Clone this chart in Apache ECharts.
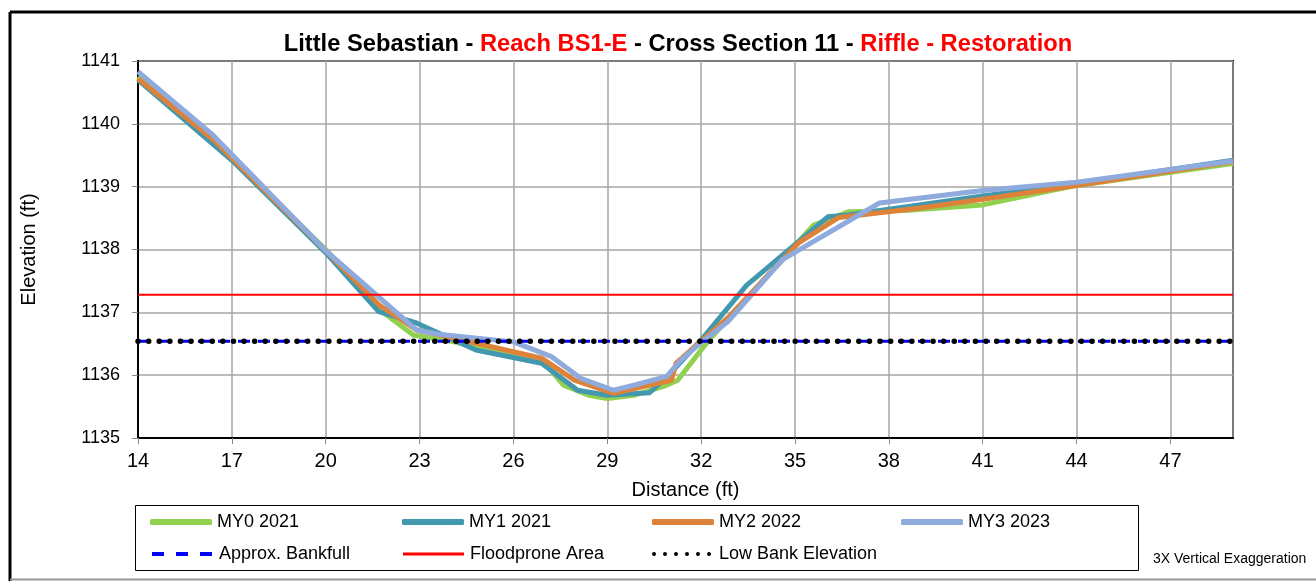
<!DOCTYPE html>
<html>
<head>
<meta charset="utf-8">
<title>Little Sebastian - Cross Section 11</title>
<script src="https://cdn.jsdelivr.net/npm/echarts@6/dist/echarts.min.js"></script>
<style>
  html, body { margin: 0; padding: 0; background: #fff; }
  #chart { width: 1316px; height: 581px; }
</style>
</head>
<body>
<div id="chart"></div>
<script>
// survey points [distance ft, elevation ft]
const my0_2021 = [
  [14, 1140.75], [17, 1139.45], [20, 1138.0], [21.7, 1137.05], [22.8, 1136.64],
  [24.1, 1136.53], [27.0, 1136.19], [27.6, 1135.84], [28.4, 1135.68], [29.0, 1135.63],
  [29.85, 1135.68], [30.8, 1135.82], [31.25, 1135.92], [32.2, 1136.53], [33.05, 1137.0],
  [35.6, 1138.39], [36.7, 1138.6], [38.5, 1138.62], [41, 1138.71], [44, 1139.02], [49, 1139.37]
]
const my1_2021 = [
  [14, 1140.7], [17, 1139.42], [20, 1137.95], [21.7, 1137.01], [22.9, 1136.83],
  [24.8, 1136.4], [26.9, 1136.19], [28.05, 1135.76], [29.0, 1135.68], [30.35, 1135.72],
  [31.0, 1136.02], [32.0, 1136.56], [33.45, 1137.43], [36.05, 1138.52], [36.7, 1138.55],
  [41, 1138.85], [44, 1139.05], [49, 1139.42]
]
const my2_2022 = [
  [14, 1140.72], [16.4, 1139.75], [20, 1137.98], [21.7, 1137.12], [22.9, 1136.72],
  [24.1, 1136.59], [26.9, 1136.27], [27.95, 1135.92], [29.2, 1135.71], [31.05, 1135.92],
  [31.2, 1136.19], [31.9, 1136.5], [32.85, 1136.91], [35.1, 1138.1], [36.4, 1138.51],
  [39.0, 1138.66], [41, 1138.8], [44, 1139.02], [49, 1139.4]
]
const my3_2023 = [
  [14, 1140.83], [16.4, 1139.82], [20, 1137.98], [22.9, 1136.72], [23.6, 1136.65],
  [26.0, 1136.53], [27.2, 1136.3], [28.15, 1135.95], [29.2, 1135.76], [29.85, 1135.84],
  [30.9, 1135.98], [31.35, 1136.24], [31.9, 1136.48], [32.85, 1136.85], [34.6, 1137.84],
  [37.7, 1138.74], [41, 1138.94], [44, 1139.07], [49, 1139.41]
]
// reference elevations
const bankfull = [[14, 1136.54], [49, 1136.54]]
const floodprone = [[14, 1137.28], [49, 1137.28]]
const lowBank = [[14, 1136.54], [49, 1136.54]]

const seriesNames = ['MY0 2021', 'MY1 2021', 'MY2 2022', 'MY3 2023',
  'Approx. Bankfull', 'Floodprone Area', 'Low Bank Elevation']

const font = 'Liberation Sans, Arial, sans-serif'

// legend glyphs
const dashIcon = 'path://M0,0h12v4h-12zM24,0h12v4h-12zM48,0h12v4h-12z'
const dotIcon = 'path://M0,2a2,2 0 1 0 4,0a2,2 0 1 0 -4,0z' +
  'M11,2a2,2 0 1 0 4,0a2,2 0 1 0 -4,0z' +
  'M22,2a2,2 0 1 0 4,0a2,2 0 1 0 -4,0z' +
  'M33,2a2,2 0 1 0 4,0a2,2 0 1 0 -4,0z' +
  'M44,2a2,2 0 1 0 4,0a2,2 0 1 0 -4,0z' +
  'M55,2a2,2 0 1 0 4,0a2,2 0 1 0 -4,0z'

function legendAt (name, left, rowY, icon, w, h) {
  return {
    data: [name],
    left: left,
    top: rowY - 8,
    padding: 0,
    icon: icon,
    itemWidth: w,
    itemHeight: h,
    textStyle: { fontFamily: font, fontSize: 18, color: '#000', padding: [0, 0, 0, 62 - w] },
    selectedMode: false
  }
}

function surveyLine (name, data, color) {
  return {
    name: name,
    type: 'line',
    data: data,
    symbol: 'none',
    lineStyle: { color: color, width: 5, join: 'round' },
    itemStyle: { color: color }
  }
}

const chart = echarts.init(document.getElementById('chart'))

chart.setOption({
  animation: false,
  textStyle: { fontFamily: font },
  title: {
    left: 673,
    top: 27,
    textAlign: 'center',
    text: '{b|Little Sebastian - }{r|Reach BS1-E}{b| - Cross Section 11 - }{r|Riffle - Restoration}',
    textStyle: {
      rich: {
        b: { fontFamily: font, fontSize: 23.7, fontWeight: 'bold', color: '#000' },
        r: { fontFamily: font, fontSize: 23.7, fontWeight: 'bold', color: '#ff0000' }
      }
    }
  },
  grid: {
    left: 138,
    right: 83,
    top: 61,
    bottom: 143,
    show: true,
    borderColor: '#000',
    borderWidth: 2
  },
  legend: [
    legendAt(seriesNames[0], 150, 521, 'roundRect', 62, 6),
    legendAt(seriesNames[1], 402, 521, 'roundRect', 62, 6),
    legendAt(seriesNames[2], 652, 521, 'roundRect', 62, 6),
    legendAt(seriesNames[3], 901, 521, 'roundRect', 62, 6),
    legendAt(seriesNames[4], 152, 553, dashIcon, 60, 4),
    legendAt(seriesNames[5], 403, 553, 'rect', 61, 3),
    legendAt(seriesNames[6], 652, 553, dotIcon, 59, 4)
  ],
  xAxis: {
    type: 'value',
    min: 14,
    max: 49,
    interval: 3,
    name: 'Distance (ft)',
    nameLocation: 'middle',
    nameGap: 42,
    nameTextStyle: { fontFamily: font, fontSize: 20, color: '#000' },
    axisLine: { lineStyle: { color: '#000', width: 2 } },
    axisTick: { show: true, length: 6, lineStyle: { color: '#888' } },
    axisLabel: { fontFamily: font, fontSize: 20, color: '#000', margin: 13, showMaxLabel: false },
    splitLine: { lineStyle: { color: '#a6a6a6', width: 1.5 } }
  },
  yAxis: {
    type: 'value',
    min: 1135,
    max: 1141,
    interval: 1,
    name: 'Elevation (ft)',
    nameLocation: 'middle',
    nameGap: 99,
    nameTextStyle: { fontFamily: font, fontSize: 20, color: '#000' },
    axisLine: { show: true, lineStyle: { color: '#000', width: 2 } },
    axisTick: { show: true, length: 6, lineStyle: { color: '#888' } },
    axisLabel: { fontFamily: font, fontSize: 18, color: '#000', margin: 18, formatter: v => String(v) },
    splitLine: { lineStyle: { color: '#a6a6a6', width: 1.5 } }
  },
  series: [
    surveyLine(seriesNames[0], my0_2021, '#92d050'),
    surveyLine(seriesNames[1], my1_2021, '#4198af'),
    surveyLine(seriesNames[2], my2_2022, '#de8239'),
    surveyLine(seriesNames[3], my3_2023, '#8faadc'),
    {
      name: seriesNames[4],
      type: 'line',
      data: bankfull,
      symbol: 'none',
      lineStyle: { color: '#0000ff', width: 3, type: [12, 8] },
      itemStyle: { color: '#0000ff' }
    },
    {
      name: seriesNames[5],
      type: 'line',
      data: floodprone,
      symbol: 'none',
      lineStyle: { color: '#ff0000', width: 2 },
      itemStyle: { color: '#ff0000' }
    },
    {
      name: seriesNames[6],
      type: 'line',
      data: lowBank,
      symbol: 'none',
      lineStyle: { color: '#000', width: 5.5, type: [0.1, 10.5], cap: 'round' },
      itemStyle: { color: '#000' }
    }
  ],
  graphic: [
    // outer frame of the sheet
    { type: 'line', shape: { x1: 10, y1: 12, x2: 1316, y2: 12 }, style: { stroke: '#000', lineWidth: 3 } },
    { type: 'line', shape: { x1: 10, y1: 12, x2: 10, y2: 581 }, style: { stroke: '#000', lineWidth: 3 } },
    { type: 'line', shape: { x1: 10, y1: 579.5, x2: 1316, y2: 579.5 }, style: { stroke: '#999', lineWidth: 2 } },
    // legend box
    { type: 'rect', shape: { x: 135.5, y: 505.5, width: 1003, height: 65 }, style: { fill: 'none', stroke: '#000', lineWidth: 1 }, z: -1 },
    {
      type: 'text',
      left: 1153,
      top: 552,
      style: { text: '3X Vertical Exaggeration', font: '14px ' + font, fill: '#000' }
    }
  ]
})
</script>
</body>
</html>
